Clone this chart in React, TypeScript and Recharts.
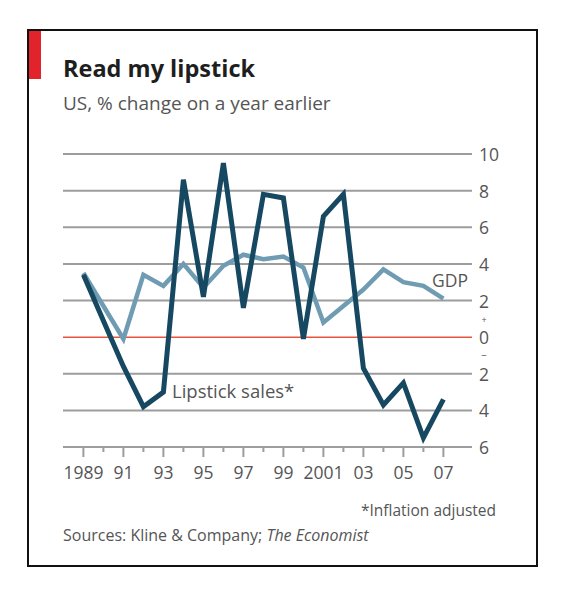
import { Line, LineChart, ReferenceLine, XAxis, YAxis } from "recharts";

const years = [1989, 1990, 1991, 1992, 1993, 1994, 1995, 1996, 1997, 1998, 1999, 2000, 2001, 2002, 2003, 2004, 2005, 2006, 2007];
// lipstick sales, inflation adjusted, % change on a year earlier
const lipstickSales = [3.4, 0.9, -1.6, -3.8, -3.0, 8.6, 2.2, 9.5, 1.6, 7.8, 7.6, -0.1, 6.6, 7.8, -1.7, -3.7, -2.5, -5.5, -3.4];
const gdpGrowth = [3.5, 1.7, -0.1, 3.4, 2.8, 4.0, 2.7, 3.9, 4.5, 4.25, 4.4, 3.8, 0.8, 1.7, 2.6, 3.7, 3.0, 2.8, 2.1];
const yTicks = [-6, -4, -2, 0, 2, 4, 6, 8, 10];
const labelYears = [1989, 1991, 1993, 1995, 1997, 1999, 2001, 2003, 2005, 2007];
const labelText = ["1989", "91", "93", "95", "97", "99", "2001", "03", "05", "07"];

const data = years.map((year, i) => ({ year, lipstick: lipstickSales[i], gdp: gdpGrowth[i] }));

const FONT = "'Open Sans', sans-serif";
const GREY_TEXT = "#555";
const GRID = "#9d9d9d";

function YearTick({ x, y, payload }: any) {
  const year = payload.value as number;
  const idx = labelYears.indexOf(year);
  const major = idx >= 0;
  return (
    <g>
      <line x1={x} x2={x} y1={y} y2={y + (major ? 10 : 5)} stroke={GRID} strokeWidth={2} />
      {major && (
        <text x={x} y={y + 32} textAnchor="middle" fontSize={17.5} fontFamily={FONT} fill={GREY_TEXT}>
          {labelText[idx]}
        </text>
      )}
    </g>
  );
}

function ValueTick({ x, y, payload }: any) {
  const v = payload.value as number;
  return (
    <g fontFamily={FONT} fill={GREY_TEXT}>
      <text x={x + 7} y={y} dominantBaseline="central" fontSize={17.5}>
        {Math.abs(v)}
      </text>
      {v === 0 && (
        <>
          <text x={x + 12} y={y - 18} textAnchor="middle" dominantBaseline="central" fontSize={9}>+</text>
          <text x={x + 12} y={y + 18} textAnchor="middle" dominantBaseline="central" fontSize={10}>−</text>
        </>
      )}
    </g>
  );
}

export default function App() {
  return (
    <div style={{ position: "absolute", left: 0, top: 0, width: 564, height: 594, background: "#fff" }}>
      <div
        style={{
          position: "absolute",
          left: 27,
          top: 29,
          width: 511,
          height: 538,
          border: "2px solid #111",
          boxSizing: "border-box",
        }}
      />
      <div style={{ position: "absolute", left: 29, top: 31, width: 12, height: 48, background: "#e3232b" }} />

      <div style={{ position: "absolute", left: 0, top: 0 }}>
        <LineChart width={564} height={594} data={data} margin={{ top: 154, left: 63, right: 52, bottom: 117 }}>
          {yTicks
            .filter((v) => v !== 0)
            .map((v) => (
              <ReferenceLine key={v} y={v} stroke={GRID} strokeWidth={2} />
            ))}
          <ReferenceLine y={0} stroke="#e8553f" strokeWidth={1.5} />
          <XAxis
            dataKey="year"
            type="number"
            domain={[1987.98, 2008.43]}
            ticks={years}
            interval={0}
            allowDataOverflow
            axisLine={false}
            tickLine={false}
            tickSize={0}
            tickMargin={0}
            height={30}
            tick={<YearTick />}
          />
          <YAxis
            orientation="right"
            domain={[-6, 10]}
            ticks={yTicks}
            interval={0}
            axisLine={false}
            tickLine={false}
            tickSize={0}
            tickMargin={0}
            width={40}
            tick={<ValueTick />}
          />
          <Line
            dataKey="gdp"
            stroke="#6f9cb3"
            strokeWidth={4.5}
            dot={false}
            activeDot={false}
            strokeLinejoin="miter"
            isAnimationActive={false}
          />
          <Line
            dataKey="lipstick"
            stroke="#174862"
            strokeWidth={5}
            dot={false}
            activeDot={false}
            strokeLinejoin="miter"
            isAnimationActive={false}
          />
        </LineChart>
      </div>

      <svg width={564} height={594} style={{ position: "absolute", left: 0, top: 0, pointerEvents: "none" }} fontFamily={FONT}>
        <text x={63} y={77} fontSize={23.5} fontWeight={700} fill="#1e1e1e">Read my lipstick</text>
        <text x={63} y={110} fontSize={19} fill={GREY_TEXT}>US, % change on a year earlier</text>
        <text x={432} y={287} fontSize={17.5} fill={GREY_TEXT}>GDP</text>
        <text x={172} y={398} fontSize={18.5} fill={GREY_TEXT}>Lipstick sales*</text>
        <text x={496} y={516} fontSize={15.5} textAnchor="end" fill={GREY_TEXT}>*Inflation adjusted</text>
        <text x={63} y={541} fontSize={16} fill={GREY_TEXT}>
          Sources: Kline &amp; Company; <tspan fontStyle="italic">The Economist</tspan>
        </text>
      </svg>
    </div>
  );
}
